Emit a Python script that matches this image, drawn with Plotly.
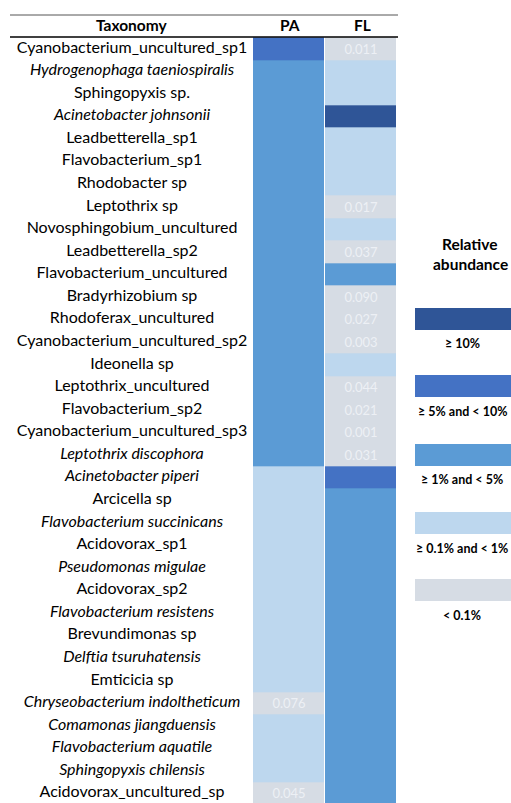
import plotly.graph_objects as go

# ---- data -------------------------------------------------------------
taxa = [
    "Cyanobacterium_uncultured_sp1", "Hydrogenophaga taeniospiralis", "Sphingopyxis sp.",
    "Acinetobacter johnsonii", "Leadbetterella_sp1", "Flavobacterium_sp1", "Rhodobacter sp",
    "Leptothrix sp", "Novosphingobium_uncultured", "Leadbetterella_sp2",
    "Flavobacterium_uncultured", "Bradyrhizobium sp", "Rhodoferax_uncultured",
    "Cyanobacterium_uncultured_sp2", "Ideonella sp", "Leptothrix_uncultured",
    "Flavobacterium_sp2", "Cyanobacterium_uncultured_sp3", "Leptothrix discophora",
    "Acinetobacter piperi", "Arcicella sp", "Flavobacterium succinicans", "Acidovorax_sp1",
    "Pseudomonas migulae", "Acidovorax_sp2", "Flavobacterium resistens", "Brevundimonas sp",
    "Delftia tsuruhatensis", "Emticicia sp", "Chryseobacterium indoltheticum",
    "Comamonas jiangduensis", "Flavobacterium aquatile", "Sphingopyxis chilensis",
    "Acidovorax_uncultured_sp",
]
italic_taxa = {
    "Hydrogenophaga taeniospiralis", "Acinetobacter johnsonii", "Leptothrix discophora",
    "Acinetobacter piperi", "Flavobacterium succinicans", "Pseudomonas migulae",
    "Flavobacterium resistens", "Delftia tsuruhatensis", "Chryseobacterium indoltheticum",
    "Comamonas jiangduensis", "Flavobacterium aquatile", "Sphingopyxis chilensis",
}

samples = ["PA", "FL"]

# abundance class per taxon (0: <0.1%, 1: 0.1-1%, 2: 1-5%, 3: 5-10%, 4: >=10%)
pa_class = [3] + [2] * 18 + [1] * 15
fl_class = [0, 1, 1, 4, 1, 1, 1, 0, 1, 0, 2, 0, 0, 0, 1, 0, 0, 0, 0, 3] + [2] * 14

# relative abundance (%) printed in the low-abundance cells
pa_value = {29: 0.076, 33: 0.045}
fl_value = {0: 0.011, 7: 0.017, 9: 0.037, 11: 0.090, 12: 0.027, 13: 0.003,
            15: 0.044, 16: 0.021, 17: 0.001, 18: 0.031}

class_labels = ["< 0.1%", "≥ 0.1% and < 1%", "≥ 1% and < 5%", "≥ 5% and < 10%", "≥ 10%"]
class_colors = ["#D6DCE4", "#BDD7EE", "#5B9BD5", "#4472C4", "#2F5597"]


def classify(v):
    bounds = [0.1, 1, 5, 10]
    return sum(v >= b for b in bounds)


def column(classes, values):
    z, txt = [], []
    for i, c in enumerate(classes):
        if i in values:
            z.append(classify(values[i]))
            txt.append(f"{values[i]:.3f}")
        else:
            z.append(c)
            txt.append("")
    return z, txt


pa_z, pa_t = column(pa_class, pa_value)
fl_z, fl_t = column(fl_class, fl_value)
z = [[a, b] for a, b in zip(pa_z, fl_z)]
cell_text = [[a, b] for a, b in zip(pa_t, fl_t)]

# ---- geometry (pixels) -----------------------------------------------
W, H = 511, 803
row_h = 22.57
table_top = 37.3                     # bottom of header rule
n = len(taxa)
y_top = -table_top / row_h - 0.5
y_bot = (H - table_top) / row_h - 0.5


def px_y(p):
    return 1 - p / H


def px_x(p):
    return p / W


colorscale = []
for k, col in enumerate(class_colors):
    colorscale.append([k / 5, col])
    colorscale.append([(k + 1) / 5, col])

fig = go.Figure()

fig.add_trace(go.Heatmap(
    z=z, x=samples, y=list(range(n)),
    text=cell_text, texttemplate="%{text}",
    textfont=dict(family="Lato", size=13, color="#EDF0F5"),
    colorscale=colorscale, zmin=-0.5, zmax=4.5, showscale=False,
    xgap=1, hoverinfo="skip",
))

labels = [f"<i>{t}</i>" if t in italic_taxa else t for t in taxa]
fig.add_trace(go.Scatter(
    x=[132] * n, y=list(range(n)), text=labels, mode="text",
    textposition="middle center",
    textfont=dict(family="Lato", size=16, color="#000000"),
    xaxis="x2", yaxis="y", hoverinfo="skip", showlegend=False,
))

fig.update_layout(
    width=W, height=H,
    margin=dict(l=0, r=0, t=0, b=0),
    paper_bgcolor="white", plot_bgcolor="white",
    showlegend=False,
    xaxis=dict(domain=[px_x(253), px_x(397)], visible=False, range=[-0.5, 1.5]),
    xaxis2=dict(domain=[0, px_x(253)], range=[0, 253], visible=False, anchor="y"),
    yaxis=dict(domain=[0, 1], range=[y_bot, y_top], visible=False),
)

# header
head_y = px_y(25)
for txt, xp in [("Taxonomy", 132), ("PA", 290), ("FL", 362)]:
    fig.add_annotation(x=px_x(xp), y=head_y, xref="paper", yref="paper", text=f"<b>{txt}</b>",
                       showarrow=False, font=dict(family="Lato", size=15.5, color="#000"),
                       xanchor="center", yanchor="middle")

fig.add_shape(type="line", xref="paper", yref="paper", x0=px_x(10), x1=px_x(398),
              y0=px_y(15), y1=px_y(15), line=dict(color="#555555", width=1))
fig.add_shape(type="line", xref="paper", yref="paper", x0=px_x(10), x1=px_x(398),
              y0=px_y(37), y1=px_y(37), line=dict(color="#000000", width=1.6))

# legend
for txt, yp in [("Relative", 244), ("abundance", 264)]:
    fig.add_annotation(x=px_x(470), y=px_y(yp), xref="paper", yref="paper", text=f"<b>{txt}</b>",
                       showarrow=False, font=dict(family="Lato", size=15.5, color="#000"),
                       xanchor="center", yanchor="middle")

legend_rows = [(4, 308), (3, 375), (2, 444), (1, 512), (0, 579)]
for k, top in legend_rows:
    fig.add_shape(type="rect", xref="paper", yref="paper",
                  x0=px_x(415), x1=px_x(525), y0=px_y(top), y1=px_y(top + 22),
                  fillcolor=class_colors[k], line=dict(width=0))
    fig.add_annotation(x=px_x(462), y=px_y(top + 36), xref="paper", yref="paper",
                       text=f"<b>{class_labels[k]}</b>", showarrow=False,
                       font=dict(family="Lato", size=12.5, color="#000"),
                       xanchor="center", yanchor="middle")

fig.write_html("out.html")
